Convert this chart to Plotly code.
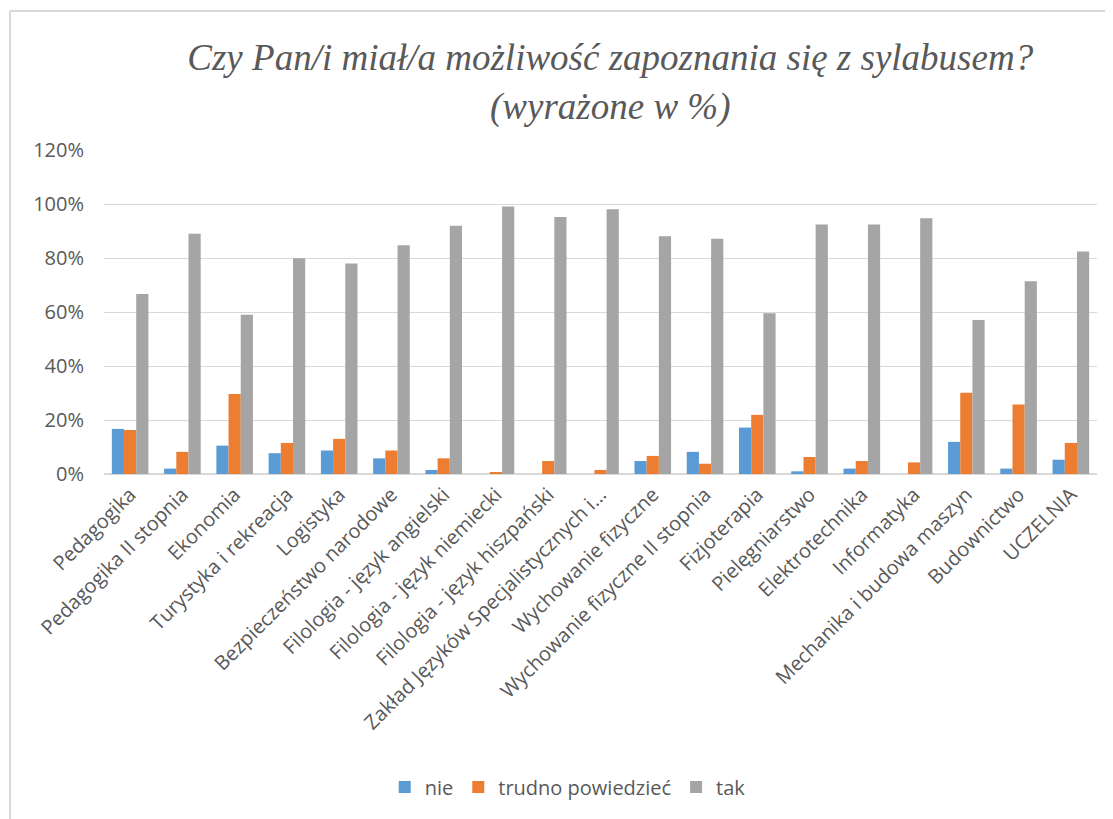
import plotly.graph_objects as go

categories = [
    "Pedagogika", "Pedagogika II stopnia", "Ekonomia", "Turystyka i rekreacja",
    "Logistyka", "Bezpieczeństwo narodowe", "Filologia - język angielski",
    "Filologia - język niemiecki", "Filologia - język hiszpański",
    "Zakład Języków Specjalistycznych i...", "Wychowanie fizyczne",
    "Wychowanie fizyczne II stopnia", "Fizjoterapia", "Pielęgniarstwo",
    "Elektrotechnika", "Informatyka", "Mechanika i budowa maszyn",
    "Budownictwo", "UCZELNIA",
]
nie = [16.7, 2.0, 10.5, 7.7, 8.7, 5.8, 1.5, 0.0, 0.0, 0.0, 4.8, 8.2, 17.2, 1.0, 2.0, 0.0, 11.9, 2.0, 5.3]
trudno = [16.3, 8.2, 29.6, 11.5, 13.0, 8.7, 5.8, 0.5, 4.8, 1.5, 6.7, 3.8, 21.9, 6.3, 4.8, 4.3, 30.1, 25.7, 11.5]
tak = [66.7, 89.0, 59.0, 79.9, 78.0, 84.7, 91.9, 99.1, 95.2, 98.1, 88.1, 87.1, 59.5, 92.4, 92.4, 94.7, 57.0, 71.4, 82.4]
series_names = ["nie", "trudno powiedzieć", "tak"]
colors = ["#5B9BD5", "#ED7D31", "#A5A5A5"]

fig = go.Figure()
for name, vals, col in zip(series_names, [nie, trudno, tak], colors):
    fig.add_trace(go.Bar(
        x=categories, y=[v / 100 for v in vals], name=name,
        marker=dict(color=col, line=dict(width=0)),
    ))

grey = "#595959"
W, H = 1105, 811
L, R, T, B = 96, 16, 142, 345
pw, ph = W - L - R, H - T - B

def px(x):
    return (x - L) / pw

def py(y):
    return (H - B - y) / ph

fig.update_layout(
    width=W, height=H,
    paper_bgcolor="white", plot_bgcolor="white",
    margin=dict(l=L, r=R, t=T, b=B),
    barmode="group", bargap=0.3, bargroupgap=0,
    font=dict(family="Open Sans", color=grey, size=20),
    title=dict(
        text="Czy Pan/i miał/a możliwość zapoznania się z sylabusem?<br>(wyrażone w %)",
        x=0.545, xanchor="center", y=0.923, yanchor="middle",
        font=dict(family="Liberation Serif", size=37, color=grey, style="italic"),
    ),
    legend=dict(
        orientation="h", x=0.467, xanchor="center", y=-0.966, yanchor="middle",
        font=dict(size=20, color=grey), itemwidth=30,
    ),
    xaxis=dict(
        tickangle=-45, tickfont=dict(size=20, color=grey),
        showline=True, linecolor="#d9d9d9", linewidth=1,
        ticks="", showgrid=False,
    ),
    yaxis=dict(
        range=[0, 1.2], dtick=0.2, tickformat=".0%",
        tickfont=dict(size=20, color=grey),
        showgrid=True, gridcolor="#d9d9d9", gridwidth=1,
        zeroline=True, zerolinecolor="#d9d9d9",
        ticklabelstandoff=19,
    ),
    shapes=[
        dict(type="line", xref="paper", yref="paper",
             x0=px(2), x1=px(W), y0=py(3), y1=py(3),
             line=dict(color="#d9d9d9", width=2)),
        dict(type="line", xref="paper", yref="paper",
             x0=px(2), x1=px(2), y0=py(3), y1=py(H),
             line=dict(color="#d9d9d9", width=2)),
    ],
)

fig.write_html("out.html")
